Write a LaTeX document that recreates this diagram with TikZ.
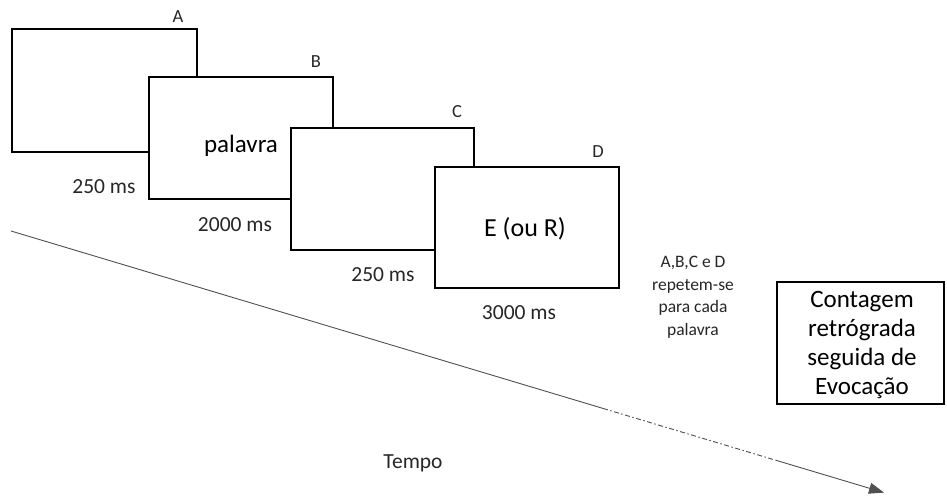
\documentclass[tikz,border=0pt]{standalone}
\usepackage{fontspec}
\setmainfont{Carlito}
\usetikzlibrary{arrows.meta}
\definecolor{txt}{HTML}{262626}
\definecolor{axis}{HTML}{505050}
\tikzset{
  frame/.style={draw=black, line width=1.7pt, fill=white, rectangle, anchor=north west, inner sep=0pt},
  letter/.style={text=txt, font=\fontsize{18.5}{22}\selectfont, inner sep=0pt},
  note/.style={text=txt, font=\fontsize{17.5}{22.5}\selectfont, inner sep=0pt, align=center},
  dur/.style={text=txt, font=\fontsize{21.5}{26}\selectfont, inner sep=0pt},
  big/.style={text=black, font=\fontsize{25}{30}\selectfont, inner sep=0pt},
  timeline/.style={draw=axis, line width=0.9pt},
}
\begin{document}
\begin{tikzpicture}[x=1pt,y=-1pt]
\useasboundingbox (0,0) rectangle (947,496);

% stimulus screens, each one covering part of the previous one
\node[frame, minimum width=185pt, minimum height=123pt] (A) at (11,28) {};
\node[frame, minimum width=184pt, minimum height=122pt] (B) at (148,76) {};
\node[frame, minimum width=183pt, minimum height=122pt] (C) at (290,127) {};
\node[frame, minimum width=184pt, minimum height=121pt] (D) at (434,166) {};
\node[frame, minimum width=167pt, minimum height=122pt] (E) at (776,281) {};

% screen letters
\node[letter] (la) at (178,17) {A};
\node[letter] (lb) at (316,62) {B};
\node[letter] (lc) at (457,112) {C};
\node[letter] (ld) at (598,152) {D};

% screen contents
\node[big] (wp) at (241,146) {palavra};
\node[big, font=\fontsize{26}{30}\selectfont] (wr) at (525,229) {E (ou R)};
\node[big, align=center] (ev) at (862,345) {Contagem\\[-1pt]retrógrada\\[-1pt]seguida de\\[-1pt]Evocação};

% durations
\node[dur] (d1) at (104,187) {250 ms};
\node[dur] (d2) at (235,225) {2000 ms};
\node[dur] (d3) at (383,275) {250 ms};
\node[dur] (d4) at (519,313) {3000 ms};

% note
\node[note] (rep) at (693,297) {A,B,C e D\\repetem-se\\para cada\\palavra};

% time axis
\coordinate (t0) at (11,231);
\coordinate (t1) at (603,408.4);
\coordinate (t2) at (777,460.6);
\coordinate (t3) at (884,492.6);
\draw[timeline] (t0) -- (t1);
\draw[timeline, dash pattern=on 5pt off 2.5pt on 1.5pt off 2.5pt] (t1) -- (t2);
\draw[timeline, -{Triangle[length=15pt,width=11pt]}] (t2) -- (t3);
\node[dur] (tempo) at (413,463) {Tempo};
\end{tikzpicture}
\end{document}
